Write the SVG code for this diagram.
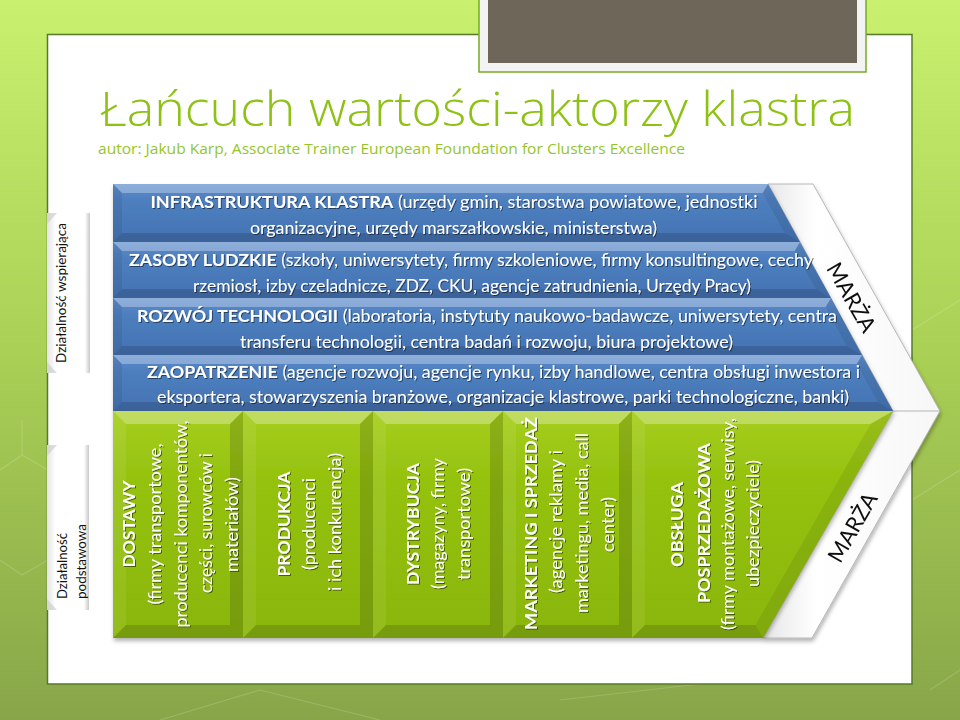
<svg xmlns="http://www.w3.org/2000/svg" width="960" height="720" viewBox="0 0 960 720">
  <defs>
    <linearGradient id="bg" x1="0" y1="0" x2="0" y2="1">
      <stop offset="0" stop-color="#c9f06e"/>
      <stop offset="0.5" stop-color="#a9cf55"/>
      <stop offset="1" stop-color="#88a649"/>
    </linearGradient>
    <linearGradient id="blueG" x1="0" y1="0" x2="0" y2="1">
      <stop offset="0" stop-color="#5e8ccb"/>
      <stop offset="0.3" stop-color="#4d7ebe"/>
      <stop offset="1" stop-color="#4473b3"/>
    </linearGradient>
    <linearGradient id="greenG" x1="0" y1="0" x2="0" y2="1">
      <stop offset="0" stop-color="#a6ce1e"/>
      <stop offset="0.3" stop-color="#95c20f"/>
      <stop offset="1" stop-color="#8ab60c"/>
    </linearGradient>
    <linearGradient id="labG" x1="0" y1="0" x2="1" y2="0">
      <stop offset="0" stop-color="#e4e4e4"/>
      <stop offset="0.2" stop-color="#ffffff"/>
      <stop offset="0.88" stop-color="#ffffff"/>
      <stop offset="1" stop-color="#c8c8c8"/>
    </linearGradient>
    <linearGradient id="chevG" x1="0" y1="0" x2="1" y2="0">
      <stop offset="0" stop-color="#e6e6e6"/>
      <stop offset="0.3" stop-color="#ffffff"/>
      <stop offset="1" stop-color="#f7f7f7"/>
    </linearGradient>
    <filter id="sh" x="-5%" y="-5%" width="110%" height="115%">
      <feDropShadow dx="1" dy="3" stdDeviation="2" flood-color="#000" flood-opacity="0.3"/>
    </filter>
    <filter id="ts" x="-5%" y="-20%" width="110%" height="140%">
      <feDropShadow dx="1" dy="1" stdDeviation="0.7" flood-color="#000" flood-opacity="0.5"/>
    </filter>
  </defs>
  <style>
    .f { font-family: Lato, "Open Sans", "DejaVu Sans", sans-serif; }
    .g { font-family: "Open Sans", Lato, "DejaVu Sans", sans-serif; fill: #8dc214; }
    .w { fill: #ffffff; }
    .bd { font-weight: 700; }
    .hl { fill: #ffffff; opacity: 0.3; }
    .lb { fill: #ffffff; opacity: 0.08; }
    .dk { fill: #000000; opacity: 0.14; }
    .dk2 { fill: #000000; opacity: 0.07; }
    .bar text { font-size: 17px; }
    .col text { font-size: 17.5px; }
    .lab { fill: url(#labG); }
    .deco { stroke: #ffffff; stroke-opacity: 0.16; fill: none; stroke-width: 1.2; }
  </style>

  <!-- background -->
  <rect x="0" y="0" width="960" height="720" fill="url(#bg)"/>
  <g class="deco">
    <path d="M0,470 L22,455 L48,470"/>
    <path d="M0,560 L22,575 L48,560"/>
    <path d="M22,455 L22,420"/>
    <path d="M160,720 L260,690 L380,720"/>
    <path d="M560,700 L700,684"/>
    <path d="M912,330 L960,300"/>
    <path d="M912,500 L960,470"/>
    <path d="M930,690 L960,670"/>
    <path d="M600,34 L660,10 L720,34"/>
  </g>

  <!-- card -->
  <rect x="47.5" y="34.5" width="864.5" height="649.5" fill="#ffffff" stroke="#56792a" stroke-width="1.5"/>

  <!-- grey frame at top -->
  <rect x="479" y="-5" width="387" height="77" fill="#f3f3f3" stroke="#78ab22" stroke-width="1.5"/>
  <rect x="488" y="-5" width="369" height="68" fill="#6e6658"/>

  <!-- title -->
  <text class="g" x="100" y="126" font-size="47" font-weight="300" textLength="755" lengthAdjust="spacingAndGlyphs">Łańcuch wartości-aktorzy klastra</text>
  <text class="g" x="98" y="154" font-size="14" textLength="587" lengthAdjust="spacingAndGlyphs" style="fill:#94c62a">autor: Jakub Karp, Associate Trainer European Foundation for Clusters Excellence</text>

  <!-- side labels -->
  <g id="label-wspierajaca">
    <rect class="lab" x="47" y="213" width="43" height="160"/>
    <polygon points="47,213 57,213 47,224" fill="#cfcfcf" opacity="0.7"/>
    <polygon points="47,373 57,373 47,362" fill="#cfcfcf" opacity="0.7"/>
    <text class="f" transform="translate(66,293) rotate(-90)" text-anchor="middle" font-size="14" fill="#111" textLength="140" lengthAdjust="spacingAndGlyphs">Działalność wspierająca</text>
  </g>
  <g id="label-podstawowa">
    <rect class="lab" x="47" y="445" width="42" height="165"/>
    <polygon points="47,445 57,445 47,456" fill="#cfcfcf" opacity="0.7"/>
    <polygon points="47,610 57,610 47,599" fill="#cfcfcf" opacity="0.7"/>
    <text class="f" transform="translate(67,599) rotate(-90)" font-size="14" fill="#111" textLength="66" lengthAdjust="spacingAndGlyphs">Działalność</text>
    <text class="f" transform="translate(86,599) rotate(-90)" font-size="14" fill="#111" textLength="75" lengthAdjust="spacingAndGlyphs">podstawowa</text>
  </g>

  <!-- margin chevron -->
  <g id="marza" filter="url(#sh)">
    <polygon points="768,184 813,184 940,411 812,638 763,638 893,411" fill="url(#chevG)" stroke="#a8a8a8" stroke-width="0.8"/>
    <line x1="893" y1="411" x2="940" y2="411" stroke="#b5b5b5" stroke-width="1"/>
    <text class="f" transform="translate(852,297) rotate(60)" text-anchor="middle" dominant-baseline="central" font-size="22" fill="#111" textLength="76" lengthAdjust="spacingAndGlyphs">MARŻA</text>
    <text class="f" transform="translate(852,527) rotate(-60)" text-anchor="middle" dominant-baseline="central" font-size="22" fill="#111" textLength="76" lengthAdjust="spacingAndGlyphs">MARŻA</text>
  </g>

  <!-- support activities (blue bars) -->
  <g id="support" filter="url(#sh)">
    <g id="bar-infrastruktura" class="bar">
      <polygon points="113,184 768,184 800,242 113,242" fill="url(#blueG)"/>
      <polygon class="hl" points="113,184 768,184 762.7,193 122,193"/>
      <polygon class="dk2" points="768,184 800,242 784.7,233 762.7,193"/>
      <polygon class="dk" points="113,242 800,242 784.7,233 122,233"/>
      <polygon class="dk2" points="113,184 122,193 122,233 113,242"/>
    </g>
    <g id="bar-zasoby" class="bar">
      <polygon points="113,242 800,242 831,298 113,298" fill="url(#blueG)"/>
      <polygon class="hl" points="113,242 800,242 794.7,251 122,251"/>
      <polygon class="dk2" points="800,242 831,298 815.7,289 794.7,251"/>
      <polygon class="dk" points="113,298 831,298 815.7,289 122,289"/>
      <polygon class="dk2" points="113,242 122,251 122,289 113,298"/>
    </g>
    <g id="bar-rozwoj" class="bar">
      <polygon points="113,298 831,298 862,355 113,355" fill="url(#blueG)"/>
      <polygon class="hl" points="113,298 831,298 825.7,307 122,307"/>
      <polygon class="dk2" points="831,298 862,355 846.7,346 825.7,307"/>
      <polygon class="dk" points="113,355 862,355 846.7,346 122,346"/>
      <polygon class="dk2" points="113,298 122,307 122,346 113,355"/>
    </g>
    <g id="bar-zaopatrzenie" class="bar">
      <polygon points="113,355 862,355 893,411 113,411" fill="url(#blueG)"/>
      <polygon class="hl" points="113,355 862,355 856.7,364 122,364"/>
      <polygon class="dk2" points="862,355 893,411 877.7,402 856.7,364"/>
      <polygon class="dk" points="113,411 893,411 877.7,402 122,402"/>
      <polygon class="dk2" points="113,355 122,364 122,402 113,411"/>
    </g>
  </g>

  <!-- primary activities (green columns) -->
  <g id="primary" filter="url(#sh)">
    <g id="col-dostawy" class="col">
      <rect x="113" y="411" width="130" height="227" fill="url(#greenG)"/>
      <polygon class="hl" points="113,411 243,411 230,424 126,424"/>
      <polygon class="lb" points="113,411 126,424 126,625 113,638"/>
      <polygon class="dk" points="243,411 243,638 230,625 230,424"/>
      <polygon class="dk" points="113,638 243,638 230,625 126,625"/>
    </g>
    <g id="col-produkcja" class="col">
      <rect x="243" y="411" width="130" height="227" fill="url(#greenG)"/>
      <polygon class="hl" points="243,411 373,411 360,424 256,424"/>
      <polygon class="lb" points="243,411 256,424 256,625 243,638"/>
      <polygon class="dk" points="373,411 373,638 360,625 360,424"/>
      <polygon class="dk" points="243,638 373,638 360,625 256,625"/>
    </g>
    <g id="col-dystrybucja" class="col">
      <rect x="373" y="411" width="130" height="227" fill="url(#greenG)"/>
      <polygon class="hl" points="373,411 503,411 490,424 386,424"/>
      <polygon class="lb" points="373,411 386,424 386,625 373,638"/>
      <polygon class="dk" points="503,411 503,638 490,625 490,424"/>
      <polygon class="dk" points="373,638 503,638 490,625 386,625"/>
    </g>
    <g id="col-marketing" class="col">
      <rect x="503" y="411" width="129" height="227" fill="url(#greenG)"/>
      <polygon class="hl" points="503,411 632,411 619,424 516,424"/>
      <polygon class="lb" points="503,411 516,424 516,625 503,638"/>
      <polygon class="dk" points="632,411 632,638 619,625 619,424"/>
      <polygon class="dk" points="503,638 632,638 619,625 516,625"/>
    </g>
    <g id="col-obsluga" class="col">
      <polygon points="632,411 893,411 763,638 632,638" fill="url(#greenG)"/>
      <polygon class="hl" points="632,411 893,411 870.6,424 645,424"/>
      <polygon class="lb" points="632,411 645,424 645,625 632,638"/>
      <polygon class="dk2" points="893,411 763,638 755.4,625 870.6,424"/>
      <polygon class="dk" points="632,638 763,638 755.4,625 645,625"/>
    </g>
  </g>

  <!-- blue bar texts -->
  <g class="f w bar" filter="url(#ts)">
    <text x="454" y="208" text-anchor="middle" textLength="607" lengthAdjust="spacingAndGlyphs"><tspan class="bd">INFRASTRUKTURA KLASTRA</tspan> (urzędy gmin, starostwa powiatowe, jednostki</text>
    <text x="453.5" y="234" text-anchor="middle" textLength="407" lengthAdjust="spacingAndGlyphs">organizacyjne, urzędy marszałkowskie, ministerstwa)</text>
    <text x="471" y="266" text-anchor="middle" textLength="684" lengthAdjust="spacingAndGlyphs"><tspan class="bd">ZASOBY LUDZKIE</tspan> (szkoły, uniwersytety, firmy szkoleniowe, firmy konsultingowe, cechy</text>
    <text x="472" y="292" text-anchor="middle" textLength="558" lengthAdjust="spacingAndGlyphs">rzemiosł, izby czeladnicze, ZDZ, CKU, agencje zatrudnienia, Urzędy Pracy)</text>
    <text x="487" y="322" text-anchor="middle" textLength="700" lengthAdjust="spacingAndGlyphs"><tspan class="bd">ROZWÓJ TECHNOLOGII</tspan> (laboratoria, instytuty naukowo-badawcze, uniwersytety, centra</text>
    <text x="486.5" y="348" text-anchor="middle" textLength="493" lengthAdjust="spacingAndGlyphs">transferu technologii, centra badań i rozwoju, biura projektowe)</text>
    <text x="503.5" y="378" text-anchor="middle" textLength="713" lengthAdjust="spacingAndGlyphs"><tspan class="bd">ZAOPATRZENIE</tspan> (agencje rozwoju, agencje rynku, izby handlowe, centra obsługi inwestora i</text>
    <text x="503" y="403" text-anchor="middle" textLength="692" lengthAdjust="spacingAndGlyphs">eksportera, stowarzyszenia branżowe, organizacje klastrowe, parki technologiczne, banki)</text>
  </g>

  <!-- green column texts -->
  <g class="f w col" filter="url(#ts)">
    <text class="bd" transform="translate(135,524) rotate(-90)" text-anchor="middle" font-size="19" textLength="87" lengthAdjust="spacingAndGlyphs">DOSTAWY</text>
    <text transform="translate(161,524) rotate(-90)" text-anchor="middle" textLength="161" lengthAdjust="spacingAndGlyphs">(firmy transportowe,</text>
    <text transform="translate(187,524) rotate(-90)" text-anchor="middle" textLength="207" lengthAdjust="spacingAndGlyphs">producenci komponentów,</text>
    <text transform="translate(212,523) rotate(-90)" text-anchor="middle" textLength="140" lengthAdjust="spacingAndGlyphs">części, surowców i</text>
    <text transform="translate(238,524.5) rotate(-90)" text-anchor="middle" textLength="95" lengthAdjust="spacingAndGlyphs">materiałów)</text>

    <text class="bd" transform="translate(290,524) rotate(-90)" text-anchor="middle" font-size="19" textLength="105" lengthAdjust="spacingAndGlyphs">PRODUKCJA</text>
    <text transform="translate(315,524) rotate(-90)" text-anchor="middle" textLength="92" lengthAdjust="spacingAndGlyphs">(producenci</text>
    <text transform="translate(341,522) rotate(-90)" text-anchor="middle" textLength="138" lengthAdjust="spacingAndGlyphs">i ich konkurencja)</text>

    <text class="bd" transform="translate(419,524) rotate(-90)" text-anchor="middle" font-size="19" textLength="122" lengthAdjust="spacingAndGlyphs">DYSTRYBUCJA</text>
    <text transform="translate(444,523.5) rotate(-90)" text-anchor="middle" textLength="131" lengthAdjust="spacingAndGlyphs">(magazyny, firmy</text>
    <text transform="translate(470,524) rotate(-90)" text-anchor="middle" textLength="112" lengthAdjust="spacingAndGlyphs">transportowe)</text>

    <text class="bd" transform="translate(537,523.5) rotate(-90)" text-anchor="middle" font-size="19" textLength="213" lengthAdjust="spacingAndGlyphs">MARKETING I SPRZEDAŻ</text>
    <text transform="translate(562,521.5) rotate(-90)" text-anchor="middle" textLength="143" lengthAdjust="spacingAndGlyphs">(agencje reklamy i</text>
    <text transform="translate(588,523) rotate(-90)" text-anchor="middle" textLength="180" lengthAdjust="spacingAndGlyphs">marketingu, media, call</text>
    <text transform="translate(614,524.5) rotate(-90)" text-anchor="middle" textLength="55" lengthAdjust="spacingAndGlyphs">center)</text>

    <text class="bd" transform="translate(683,524.5) rotate(-90)" text-anchor="middle" font-size="19" textLength="85" lengthAdjust="spacingAndGlyphs">OBSŁUGA</text>
    <text class="bd" transform="translate(710,523) rotate(-90)" text-anchor="middle" font-size="19" textLength="160" lengthAdjust="spacingAndGlyphs">POSPRZEDAŻOWA</text>
    <text transform="translate(734,524) rotate(-90)" text-anchor="middle" textLength="212" lengthAdjust="spacingAndGlyphs">(firmy montażowe, serwisy,</text>
    <text transform="translate(759,523.5) rotate(-90)" text-anchor="middle" textLength="127" lengthAdjust="spacingAndGlyphs">ubezpieczyciele)</text>
  </g>

  <g id="connectors"/>
</svg>
